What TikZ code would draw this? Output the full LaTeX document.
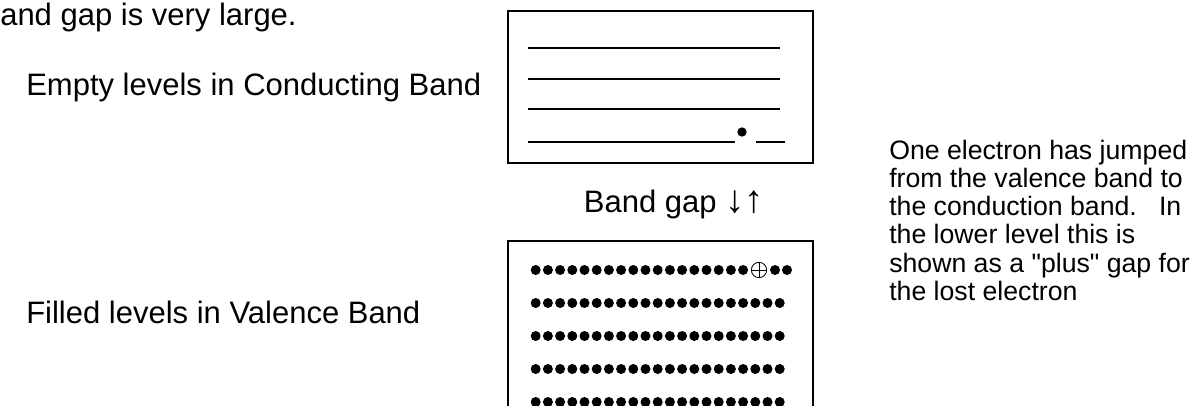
\documentclass[tikz,border=0pt]{standalone}
\usepackage{fontspec}
\setmainfont{Liberation Sans}[Ligatures=TeXOff]
\begin{document}
\begin{tikzpicture}[x=0.75pt,y=-0.75pt,inner sep=0pt]
\tikzstyle{label0}=[anchor=base west,font=\fontsize{23.25}{28}\selectfont]
\tikzstyle{level0}=[line width=1pt]
\tikzstyle{band0}=[line width=1.5pt]
\tikzstyle{elec0}=[circle,fill=black,minimum size=7pt]
\clip (0,0) rectangle (1200,406);
\node at (0,26) (title)[label0] {and gap is very large.};
\node at (26,96) (cond)[label0] {Empty levels in Conducting Band};
\node at (26,323) (val)[label0] {Filled levels in Valence Band};
\node at (674,213) (gap)[label0,anchor=base] {Band gap {\fontsize{29}{29}\selectfont ↓↑}};
%% conduction band, all levels empty but one electron
\draw[band0] (508,11) rectangle (813,163);
\draw[level0] (528,48) -- (780,48);
\draw[level0] (528,79) -- (780,79);
\draw[level0] (528,109) -- (780,109);
\draw[level0] (528,142) -- (735,142);
\draw[level0] (756,142) -- (785,142);
\node at (742,132) (electron)[elec0] {};
%% valence band, filled
\draw[band0] (508,241) rectangle (813,460);
\foreach \i in {0,...,17} \fill (535.7+\i*12.2,270) circle (5);
\node at (759,270) (hole)[circle,draw,line width=0.6pt,minimum size=11.5pt] {};
\draw[line width=0.6pt] (hole.north) -- (hole.south) (hole.west) -- (hole.east);
\fill (775,270) circle (5);
\fill (787,270) circle (5);
\foreach \r in {1,...,4}
  \foreach \i in {0,...,20} \fill (535.7+\i*12.2,270+\r*33) circle (5);
\node at (889,300.5) (note)[anchor=base west,align=left,font=\fontsize{20}{21.2}\selectfont]
  {One electron has jumped\\from the valence band to\\the conduction band.\ \ \ In\\the lower level this is\\shown as a "plus" gap for\\the lost electron};
\end{tikzpicture}
\end{document}
